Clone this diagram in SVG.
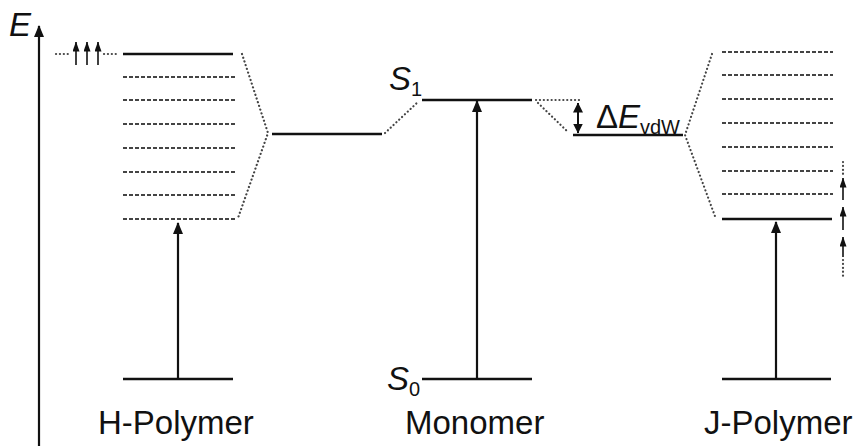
<svg xmlns="http://www.w3.org/2000/svg" width="856" height="446" viewBox="0 0 856 446">
<defs>
<marker id="ah" viewBox="0 0 12 10" refX="11" refY="5" markerWidth="12" markerHeight="10" markerUnits="userSpaceOnUse" orient="auto-start-reverse"><path d="M0,0 L12,5 L0,10 Z" fill="#111"/></marker>
<marker id="as" viewBox="0 0 10 7" refX="9.5" refY="3.5" markerWidth="10" markerHeight="7" markerUnits="userSpaceOnUse" orient="auto-start-reverse"><path d="M0,0 L10,3.5 L0,7 Z" fill="#111"/></marker>
<marker id="ad" viewBox="0 0 10 10" refX="9.5" refY="5" markerWidth="10" markerHeight="10" markerUnits="userSpaceOnUse" orient="auto-start-reverse"><path d="M0,0 L10,5 L0,10 Z" fill="#111"/></marker>
<style>
.lvl{stroke:#111;stroke-width:2.5;fill:none}
.vib{stroke:#444;stroke-width:1.8;stroke-dasharray:4 2;fill:none}
.dot{stroke:#444;stroke-width:2.2;stroke-dasharray:0.1 3.8;stroke-linecap:round;fill:none}
.arr{stroke:#111;stroke-width:2.2;fill:none;marker-end:url(#ah)}
.sarr{stroke:#111;stroke-width:1.6;fill:none;marker-end:url(#as)}
text{font-family:"Liberation Sans",Arial,sans-serif;fill:#111}
.lab{font-size:33px}
.it{font-style:italic}
.sub{font-size:20px}
</style>
</defs>
<rect width="856" height="446" fill="#fff"/>
<g id="axis">
<line x1="39" y1="446" x2="39" y2="26" class="arr" stroke-width="2.5"/>
<text x="9" y="36" class="lab it">E</text>
</g>
<g id="h-polymer">
<line x1="123" y1="54" x2="233" y2="54" class="lvl"/>
<line x1="123" y1="77" x2="235" y2="77" class="vib"/>
<line x1="123" y1="100" x2="235" y2="100" class="vib"/>
<line x1="123" y1="124" x2="235" y2="124" class="vib"/>
<line x1="123" y1="148" x2="235" y2="148" class="vib"/>
<line x1="123" y1="172" x2="235" y2="172" class="vib"/>
<line x1="123" y1="195" x2="235" y2="195" class="vib"/>
<line x1="123" y1="219" x2="235" y2="219" class="vib"/>
<line x1="123" y1="379" x2="233" y2="379" class="lvl"/>
<line x1="178" y1="379" x2="178" y2="223" class="arr"/>
<line x1="56" y1="54" x2="70" y2="54" class="dot"/>
<line x1="104" y1="54" x2="118" y2="54" class="dot"/>
<line x1="76" y1="65" x2="76" y2="42" class="sarr"/>
<line x1="87" y1="65" x2="87" y2="42" class="sarr"/>
<line x1="98" y1="65" x2="98" y2="42" class="sarr"/>
<text x="98" y="434" class="lab">H-Polymer</text>
</g>
<g id="monomer">
<line x1="272" y1="134" x2="382" y2="134" class="lvl"/>
<line x1="422" y1="100" x2="532" y2="100" class="lvl"/>
<line x1="422" y1="379" x2="532" y2="379" class="lvl"/>
<line x1="477" y1="379" x2="477" y2="101" class="arr"/>
<line x1="573" y1="135" x2="683" y2="135" class="lvl"/>
<text x="389" y="90" class="lab it">S</text><text x="411" y="96" class="sub">1</text>
<text x="387" y="390" class="lab it">S</text><text x="409" y="396" class="sub">0</text>
<text x="405" y="434" class="lab">Monomer</text>
<line x1="578" y1="103" x2="578" y2="133" stroke="#111" stroke-width="2" marker-start="url(#ad)" marker-end="url(#ad)"/>
<text x="596" y="128" class="lab">Δ<tspan class="it">E</tspan></text>
<text x="640" y="134" class="sub">vdW</text>
</g>
<g id="j-polymer">
<line x1="722" y1="52" x2="833" y2="52" class="vib"/>
<line x1="722" y1="75" x2="833" y2="75" class="vib"/>
<line x1="722" y1="99" x2="833" y2="99" class="vib"/>
<line x1="722" y1="123" x2="833" y2="123" class="vib"/>
<line x1="722" y1="147" x2="833" y2="147" class="vib"/>
<line x1="722" y1="171" x2="833" y2="171" class="vib"/>
<line x1="722" y1="194" x2="833" y2="194" class="vib"/>
<line x1="722" y1="219" x2="832" y2="219" class="lvl"/>
<line x1="722" y1="379" x2="831" y2="379" class="lvl"/>
<line x1="776" y1="379" x2="776" y2="222" class="arr"/>
<line x1="843" y1="162" x2="843" y2="175" class="dot"/>
<line x1="843" y1="200" x2="843" y2="178" class="sarr"/>
<line x1="843" y1="230" x2="843" y2="207" class="sarr"/>
<line x1="843" y1="257" x2="843" y2="237" class="sarr"/>
<line x1="843" y1="260" x2="843" y2="278" class="dot"/>
<text x="704" y="434" class="lab">J-Polymer</text>
</g>
<g id="connectors">
<polyline points="242,54 268,133 238,218" class="dot"/>
<line x1="385" y1="133" x2="419" y2="101" class="dot"/>
<line x1="536" y1="100" x2="582" y2="100" class="dot"/>
<line x1="538" y1="103" x2="568" y2="132" class="dot"/>
<polyline points="712,54 685,135 716,219" class="dot"/>
</g>
</svg>
